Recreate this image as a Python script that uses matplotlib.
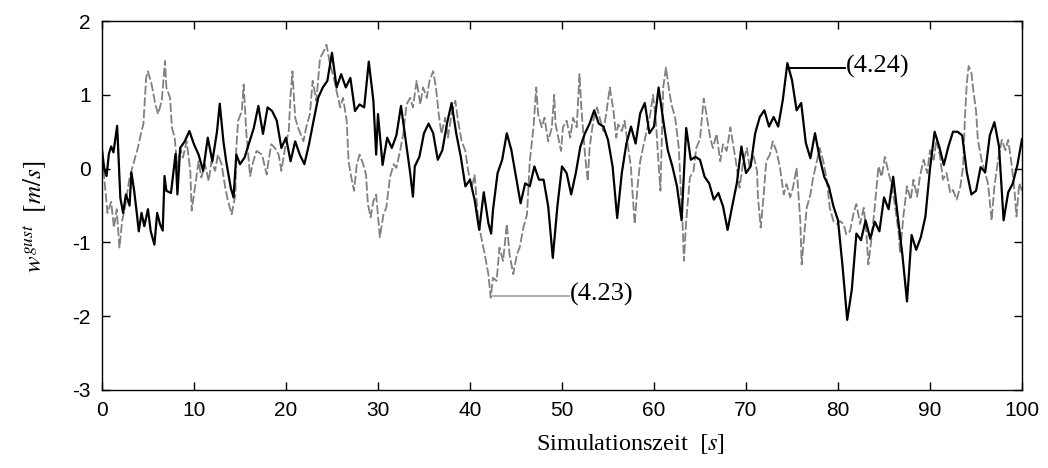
import matplotlib
matplotlib.use("Agg")
import matplotlib.pyplot as plt

# gust velocity, eq. (4.24) - black solid
t_424 = [0, 0.25, 0.5, 0.75, 1.0, 1.25, 1.5, 1.65, 2.0, 2.3, 2.6, 3.0, 3.2, 3.5, 3.8, 4.0, 4.3, 4.6,
         5.0, 5.3, 5.7, 6.0, 6.3, 6.6, 6.8, 7.0, 7.5, 8.0, 8.2, 8.5, 9.0, 9.5, 10, 10.5, 11, 11.5,
         12, 12.5, 12.8, 13.2, 13.5, 14, 14.3, 14.6, 15, 15.5, 16, 16.5, 17, 17.5, 18, 18.5, 19,
         19.5, 20, 20.5, 21, 21.5, 22, 22.5, 23, 23.5, 24, 24.5, 25, 25.5, 26, 26.5, 27, 27.5, 28,
         28.5, 29, 29.5, 29.8, 30, 30.5, 31, 31.5, 32, 32.5, 33, 33.5, 33.8, 34, 34.5, 35, 35.5,
         36, 36.5, 37, 37.5, 38, 38.5, 39, 39.5, 40, 40.5, 41, 41.5, 42, 42.3, 42.5, 43, 43.5, 44,
         44.5, 45, 45.5, 46, 46.5, 47, 47.5, 48, 48.5, 49, 49.5, 50, 50.5, 51, 51.5, 52, 52.5, 53,
         53.5, 54, 54.5, 55, 55.5, 56, 56.5, 57, 57.5, 58, 58.5, 59, 59.5, 60, 60.5, 61, 61.5, 62,
         62.5, 63, 63.5, 64, 64.5, 65, 65.5, 66, 66.5, 67, 67.5, 68, 68.5, 69, 69.5, 70, 70.5, 71,
         71.5, 72, 72.5, 73, 73.5, 74, 74.5, 75, 75.5, 76, 76.5, 77, 77.5, 78, 78.5, 79, 79.5, 80,
         80.5, 81, 81.5, 82, 82.5, 83, 83.5, 84, 84.5, 85, 85.5, 86, 86.5, 87, 87.5, 88, 88.5, 89,
         89.5, 90, 90.5, 91, 91.5, 92, 92.5, 93, 93.5, 94, 94.5, 95, 95.5, 96, 96.5, 97, 97.5, 98,
         98.5, 99, 99.5, 100]
w_424 = [0.25, 0.0, -0.1, 0.2, 0.3, 0.22, 0.45, 0.58, -0.4, -0.6, -0.35, -0.5, -0.05, -0.3, -0.62,
         -0.85, -0.6, -0.78, -0.55, -0.85, -1.03, -0.6, -0.75, -0.84, -0.1, -0.3, -0.33, 0.2, -0.35,
         0.28, 0.37, 0.51, 0.33, 0.19, -0.03, 0.42, 0.1, 0.5, 0.88, 0.37, 0.1, -0.26, -0.39, 0.19,
         0.06, 0.15, 0.35, 0.55, 0.85, 0.47, 0.83, 0.78, 0.65, 0.28, 0.42, 0.1, 0.37, 0.19, 0.06,
         0.33, 0.65, 0.96, 1.1, 1.19, 1.57, 1.1, 1.28, 1.1, 1.23, 0.78, 0.87, 0.83, 1.45, 0.92, 0.19,
         0.74, 0.05, 0.42, 0.28, 0.45, 0.85, 0.39, -0.06, -0.38, 0.03, 0.16, 0.48, 0.61, 0.48, 0.12,
         0.25, 0.61, 0.89, 0.48, 0.16, -0.24, -0.15, -0.42, -0.83, -0.32, -0.74, -0.88, -0.56, -0.06,
         0.12, 0.48, 0.25, -0.11, -0.47, -0.2, -0.24, 0.03, -0.15, -0.15, -0.51, -1.21, -0.51, 0.03,
         -0.06, -0.35, -0.06, 0.3, 0.48, 0.61, 0.79, 0.61, 0.57, 0.39, 0.03, -0.67, -0.06, 0.34,
         0.57, 0.34, 0.75, 0.89, 0.48, 0.57, 1.1, 0.66, 0.25, 0.03, -0.24, -0.7, 0.55, 0.12, 0.16,
         0.12, -0.11, -0.2, -0.42, -0.33, -0.51, -0.83, -0.51, -0.2, 0.3, -0.06, 0.03, 0.48, 0.7,
         0.79, 0.57, 0.7, 0.57, 0.93, 1.43, 1.2, 0.79, 0.89, 0.35, 0.14, 0.48, 0.15, -0.11, -0.24,
         -0.51, -0.7, -1.33, -2.05, -1.64, -0.88, -0.97, -0.7, -0.95, -0.72, -0.85, -0.39, -0.55,
         -0.11, -0.65, -1.17, -1.8, -0.9, -1.1, -0.93, -0.65, 0.0, 0.5, 0.3, 0.05, 0.3, 0.5, 0.5,
         0.45, -0.05, -0.35, -0.3, 0.02, -0.05, 0.45, 0.63, 0.3, -0.7, -0.32, -0.2, 0.05, 0.4]

# gust velocity, eq. (4.23) - grey dashed
t_423 = [0, 0.3, 0.6, 1.0, 1.3, 1.6, 1.9, 2.2, 2.5, 3.0, 3.4, 3.9, 4.3, 4.5, 4.8, 5.0, 5.4, 5.8,
         6.1, 6.5, 6.85, 7.0, 7.4, 7.6, 7.9, 8.2, 8.5, 8.8, 9.2, 9.6, 9.75, 10.1, 10.5, 10.8, 11.2,
         11.6, 11.9, 12.3, 12.6, 13.0, 13.4, 13.7, 14.1, 14.5, 14.6, 14.8, 15.2, 15.4, 15.7, 16.1,
         16.45, 16.8, 17.4, 17.9, 18.1, 18.4, 18.8, 19.2, 19.5, 19.9, 20.3, 20.5, 20.7, 21.0, 21.3,
         21.9, 22.2, 22.6, 22.9, 23.3, 23.7, 24.1, 24.4, 24.8, 25.2, 25.5, 25.9, 26.2, 26.6, 26.8,
         27.1, 27.4, 27.7, 28.0, 28.4, 28.7, 28.9, 29.2, 29.5, 29.8, 30.2, 30.6, 30.9, 31.3, 31.7,
         32.0, 32.4, 32.75, 33.1, 33.5, 33.8, 34.2, 34.6, 34.9, 35.3, 35.6, 36.0, 36.3, 36.6, 36.9,
         37.3, 37.6, 38.0, 38.4, 38.7, 39.1, 39.5, 39.8, 40.2, 40.5, 40.9, 41.3, 41.6, 42.0, 42.25,
         42.5, 42.9, 43.2, 43.6, 44.0, 44.3, 44.7, 45.1, 45.4, 45.8, 46.2, 46.5, 46.9, 47.2, 47.4,
         47.8, 48.1, 48.5, 48.9, 49.15, 49.3, 49.6, 49.9, 50.1, 50.5, 50.9, 51.2, 51.6, 51.9, 52.1,
         52.5, 52.8, 53.0, 53.4, 53.8, 54.1, 54.5, 54.8, 55.2, 55.6, 55.9, 56.1, 56.5, 56.8, 57.2,
         57.5, 57.7, 57.9, 58.2, 58.5, 58.8, 59.2, 59.6, 59.9, 60.2, 60.5, 60.7, 61.0, 61.3, 61.6,
         61.9, 62.3, 62.7, 62.9, 63.1, 63.25, 63.5, 63.9, 64.3, 64.6, 65.0, 65.4, 65.7, 66.1, 66.4,
         66.8, 67.2, 67.5, 67.9, 68.3, 68.6, 68.9, 69.3, 69.7, 70.1, 70.4, 70.8, 71.2, 71.3, 71.6,
         71.9, 72.2, 72.6, 72.9, 73.3, 73.7, 74.1, 74.4, 74.8, 75.1, 75.5, 75.9, 76.05, 76.3, 76.6,
         77.0, 77.3, 77.7, 78.0, 78.4, 78.8, 79.1, 79.5, 79.9, 80.2, 80.6, 80.9, 81.3, 81.7, 82.0,
         82.4, 82.8, 83.1, 83.3, 83.7, 84.0, 84.4, 84.75, 85.1, 85.5, 85.8, 86.2, 86.6, 86.75, 87.1,
         87.5, 87.9, 88.2, 88.6, 88.9, 89.3, 89.7, 90.0, 90.4, 90.7, 91.1, 91.4, 91.8, 92.2, 92.5,
         92.9, 93.3, 93.6, 93.8, 94.0, 94.2, 94.5, 94.7, 95.0, 95.2, 95.6, 96.0, 96.3, 96.7, 97.0,
         97.4, 97.8, 98.2, 98.5, 98.9, 99.2, 99.4, 99.7, 100]
w_423 = [0.3, -0.2, -0.6, -0.45, -0.8, -0.55, -1.07, -0.7, -0.53, -0.12, 0.06, 0.28, 0.51, 0.6,
         1.23, 1.32, 1.14, 0.87, 0.74, 0.92, 1.46, 1.1, 0.96, 0.56, 0.42, 0.01, 0.28, 0.15, 0.37,
         -0.03, -0.57, -0.26, 0.1, -0.12, 0.06, -0.17, 0.1, -0.03, 0.19, 0.06, -0.26, -0.44, -0.62,
         -0.35, 0.28, 0.65, 0.78, 1.14, 0.47, -0.1, 0.1, 0.24, 0.19, -0.08, 0.1, 0.33, 0.28, 0.19,
         -0.03, 0.28, 0.51, 1.0, 1.32, 0.69, 0.56, 0.37, 0.56, 0.74, 1.19, 0.92, 1.5, 1.59, 1.68,
         1.41, 1.23, 1.05, 0.83, 0.96, 0.65, 0.1, -0.12, -0.3, 0.06, 0.19, 0.06, -0.08, -0.48, -0.66,
         -0.44, -0.35, -0.93, -0.62, -0.53, -0.12, 0.06, 0.01, 0.24, 0.47, 0.87, 0.96, 0.83, 1.19,
         0.87, 1.1, 0.96, 1.19, 1.32, 1.1, 0.74, 0.47, 0.69, 0.42, 0.74, 0.92, 0.65, 0.37, 0.24,
         -0.03, -0.26, -0.08, -0.71, -0.98, -1.16, -1.43, -1.75, -1.48, -1.52, -1.07, -1.25, -0.75,
         -1.16, -1.43, -1.16, -1.07, -0.8, -0.62, 0.1, 0.56, 1.1, 0.74, 0.56, 0.69, 0.37, 0.56, 1.0,
         0.6, 0.42, 0.24, 0.56, 0.65, 0.42, 0.69, 0.56, 1.28, 0.83, 0.19, -0.17, 0.28, 0.65, 0.83,
         0.69, 0.51, 0.74, 1.1, 0.78, 0.42, 0.6, 0.51, 0.65, 0.28, 0.01, -0.39, -0.75, -0.26, 0.1,
         0.28, 0.51, 0.74, 1.0, 0.65, 0.06, -0.3, 1.1, 1.37, 1.1, 0.87, 0.69, 0.28, -0.26, -0.71,
         -1.25, -0.71, -0.12, -0.03, 0.28, 0.4, 0.95, 0.74, 0.42, 0.28, 0.47, 0.1, 0.33, 0.24, 0.56,
         0.33, 0.1, -0.26, 0.1, 0.28, 0.01, 0.19, -0.03, -0.39, -0.8, -0.39, 0.1, 0.19, 0.37, 0.24,
         0.01, -0.35, -0.21, -0.39, -0.26, 0.01, -0.71, -1.3, -0.93, -0.53, -0.35, -0.12, 0.1, 0.28,
         0.1, -0.17, -0.53, -0.71, -0.75, -0.71, -0.75, -0.89, -0.85, -0.6, -0.48, -0.75, -0.53,
         -0.9, -1.3, -0.88, -0.51, 0.03, -0.11, 0.16, -0.06, -0.2, -0.51, -0.88, -1.15, -0.65, -0.24,
         -0.42, -0.15, -0.38, -0.11, 0.12, -0.06, 0.25, 0.12, 0.39, 0.16, -0.15, -0.06, -0.33, -0.29,
         -0.42, -0.24, 0.03, 0.7, 1.16, 1.39, 1.3, 1.07, 0.79, 0.39, 0.12, -0.06, -0.2, -0.7, -0.24,
         0.12, 0.39, 0.25, 0.39, 0.03, -0.33, -0.65, -0.2, -0.3]

plt.rcParams['mathtext.fontset'] = 'stix'
plt.rcParams['axes.unicode_minus'] = False
serif = ['Liberation Serif', 'DejaVu Serif']
sans = ['Liberation Sans', 'DejaVu Sans']

fig = plt.figure(figsize=(10.48, 4.68), dpi=100)
ax = fig.add_axes([0.0973, 0.1667, 0.8779, 0.7883])

ax.plot(t_423, w_423, color='#808080', lw=1.3, linestyle=(0, (5, 1.5)))
ax.plot(t_424, w_424, color='black', lw=1.6)

# equation labels
ax.plot([42.45, 50.8], [-1.73, -1.73], color='#a0a0a0', lw=1.2)
ax.text(50.9, -1.70, '(4.23)', family=serif, fontsize=19, va='center', ha='left')
ax.plot([74.5, 80.8], [1.36, 1.36], color='black', lw=1.4)
ax.text(80.9, 1.39, '(4.24)', family=serif, fontsize=19, va='center', ha='left')

ax.set_xlim(0, 100)
ax.set_ylim(-3, 2)
ax.set_xticks(range(0, 101, 10))
ax.set_yticks(range(-3, 3))
ax.tick_params(direction='in', length=6, width=1, top=True, right=True, labelsize=15, pad=8)
for lab in ax.get_xticklabels() + ax.get_yticklabels():
    lab.set_family(sans)
for s in ax.spines.values():
    s.set_linewidth(1.0)

ax.set_xlabel('Simulationszeit  $[s]$', family=serif, fontsize=17.5)
ax.xaxis.set_label_coords(0.574, -0.115)
ax.set_ylabel('$w^{gust}$  $[m/s]$', family=serif, fontsize=18)
ax.yaxis.set_label_coords(-0.058, 0.47)

fig.savefig('out.png', dpi=100)
